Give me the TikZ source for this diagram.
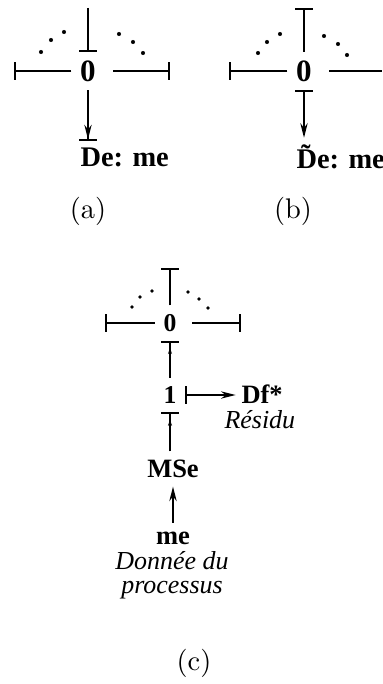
\documentclass[tikz,border=0pt]{standalone}
\usepackage{fontspec}
\newfontfamily\tms{Liberation Serif}
\usetikzlibrary{arrows.meta}

\tikzset{
    causal/.tip   = {Bar[width = 6.6pt, line width = 0.75pt]},
    bondtip/.tip  = {Stealth[length = 5.4pt, width = 2.7pt]},
    smalltip/.tip = {Stealth[length = 2.2pt, width = 1.5pt, sep = 2pt]}
}

\begin{document}
\begin{tikzpicture}[
    x = 0.37pt, y = -0.37pt,
    junction/.style = {
        font = \tms\bfseries\fontsize{11.5}{13}\selectfont,
        inner sep = 3.1pt
    },
    junctionc/.style = {
        font = \tms\bfseries\fontsize{9.5}{11}\selectfont,
        inner sep = 3.1pt
    },
    element/.style = {
        font = \tms\bfseries\fontsize{10.5}{12}\selectfont,
        inner xsep = 0pt, inner ysep = 2.4pt
    },
    elementc/.style = {
        font = \tms\bfseries\fontsize{9.8}{11}\selectfont,
        inner sep = 3pt
    },
    note/.style = {
        font = \tms\itshape\fontsize{9.6}{8.8}\selectfont,
        inner sep = 0pt, align = center
    },
    caption/.style = {font = \fontsize{10.5}{12}\selectfont, inner sep = 0pt},
    bond/.style = {line width = 0.75pt},
    dot/.style = {fill = black}
]
\useasboundingbox (0,0) rectangle (382,684);

% --- (a) ---
\node[junction] (a0) at (88,71) {0};
\coordinate (atop)   at (88,8);
\coordinate (aleft)  at (14,71);
\coordinate (aright) at (170,71);
\node[element, anchor = base west] (ade) at (80,167) {De: me};

\draw[bond, -{causal[]}] (atop) -- (a0);
\draw[bond, -{causal[]}] (a0) -- (aleft);
\draw[bond, -{causal[]}, shorten <= 3.2pt] (a0) -- (aright);
\draw[bond, -{bondtip[] causal[]}] (a0) -- (a0 |- ade.north);

\foreach \p in {(41,52), (51,40), (64,32), (119,34), (133,42), (143,53)}
    \fill[dot] \p circle (0.75pt);

\node[caption, anchor = base] (capa) at (88,218) {(a)};

% --- (b) ---
\node[junction] (b0) at (304,71) {0};
\coordinate (btop)   at (304,8);
\coordinate (bleft)  at (229,71);
\coordinate (bright) at (382,71);
\node[element, anchor = base west] (bde) at (296,169) {\~{D}e: me};

\draw[bond, -{causal[]}] (b0) -- (btop);
\draw[bond, -{causal[]}] (b0) -- (bleft);
\draw[bond, shorten <= 3.2pt] (b0) -- (bright);
\draw[bond, {causal[]}-{bondtip[]}] (b0) -- (b0 |- bde.north);

\foreach \p in {(258,53), (267,42), (280,34), (324,36), (338,44), (347,55)}
    \fill[dot] \p circle (0.75pt);

\node[caption, anchor = base] (capb) at (293,218) {(b)};

% --- (c) ---
\node[junctionc] (c0) at (170,323) {0};
\node[junctionc] (c1) at (170,395) {1};
\coordinate (ctop)   at (170,268);
\coordinate (cleft)  at (105,323);
\coordinate (cright) at (241,323);

\node[elementc, anchor = base west, inner sep = 0pt] (cdf) at (241,403) {Df*};
\node[note, anchor = base west] (cres) at (224,428) {Résidu};
\node[elementc] (cmse) at (173,469) {MSe};
\node[elementc] (cme)  at (173,538) {me};
\node[note, anchor = north] (cdata) at (172,551) {Donnée du\\processus};

\draw[bond, -{causal[]}] (c0) -- (ctop);
\draw[bond, -{causal[]}] (c0) -- (cleft);
\draw[bond, -{causal[]}, shorten <= 2.6pt] (c0) -- (cright);
\draw[bond, -{smalltip[] causal[]}] (c1) -- (c0);
\draw[bond, {causal[]}-{bondtip[]}] (c1) -- ([xshift = -2pt]c1 -| cdf.west);
\draw[bond, -{smalltip[] causal[]}] (cmse.north -| c1) -- (c1);
\draw[bond, -{bondtip[]}] (cme) -- (cmse);

\foreach \p in {(132,307), (140,297), (152,291), (188,292), (199,299), (208,308)}
    \fill[dot] \p circle (0.7pt);

\node[caption, anchor = base] (capc) at (194,670) {(c)};

\end{tikzpicture}
\end{document}
